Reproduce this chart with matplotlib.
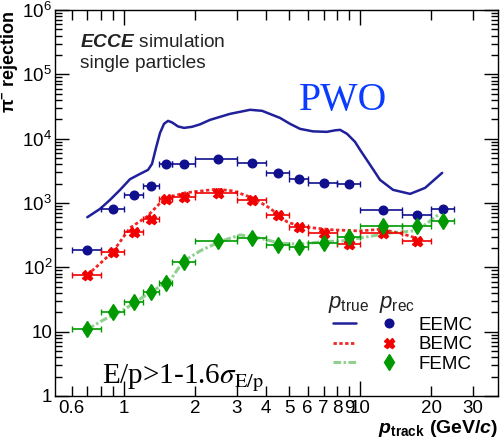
import matplotlib
matplotlib.use("Agg")
import matplotlib.pyplot as plt
from matplotlib.lines import Line2D
from matplotlib.ticker import FixedLocator, FixedFormatter, NullFormatter

plt.rcParams["font.family"] = ["Liberation Sans", "DejaVu Sans"]
plt.rcParams["mathtext.fontset"] = "custom"
plt.rcParams["mathtext.rm"] = "Liberation Sans"
plt.rcParams["mathtext.it"] = "Liberation Sans:italic"
plt.rcParams["mathtext.bf"] = "Liberation Sans:bold"
plt.rcParams["mathtext.bfit"] = "Liberation Sans:bold:italic"
plt.rcParams["mathtext.default"] = "regular"

# ---- reconstructed-momentum points (bin centres and half widths, GeV/c) ----
p_rec = [0.7, 0.9, 1.1, 1.3, 1.5, 1.8, 2.5, 3.5, 4.5, 5.5, 7, 9, 12.5, 17.5, 22.5]
p_halfwidth = [0.1, 0.1, 0.1, 0.1, 0.1, 0.2, 0.5, 0.5, 0.5, 0.5, 1, 1, 2.5, 2.5, 2.5]

eemc_rej = [186, 801, 1350, 1850, 4100, 4100, 4800, 4160, 2900, 2350, 2030, 1980, 790, 650, 800]
bemc_rej = [76, 172, 359, 560, 1150, 1260, 1450, 1120, 646, 429, 347, 229, 339, 260]
femc_rej = [10.9, 20.5, 28.7, 41.9, 57.8, 120, 257, 290, 223, 205, 242, 297, 445, 436, 527]

# ---- true-momentum curves ----
eemc_true_p = [0.699, 0.791, 0.872, 0.962, 1.06, 1.169, 1.264, 1.314, 1.366, 1.421, 1.477,
               1.536, 1.597, 1.693, 1.796, 1.942, 2.099, 2.314, 2.813, 3.42, 3.843, 4.581,
               5.05, 5.57, 6.32, 7.23, 7.83, 8.23, 8.81, 9.52, 10.0, 11.03, 12.15, 13.8,
               16.3, 18.86, 22.27]
eemc_true_rej = [601, 809, 1117, 1600, 2345, 2835, 3273, 4057, 7190, 12300, 17000,
                 18900, 17900, 15500, 14700, 15300, 16700, 19600, 24300, 28100, 27100, 21000,
                 17000, 14200, 12980, 12760, 13470, 13710, 11880, 8920, 6700, 3915, 2287, 1600,
                 1386, 1718, 2940]

bemc_true_p = [0.70, 0.895, 1.06, 1.25, 1.42, 1.50, 1.81, 2.47, 2.90, 3.53, 4.15, 4.89,
               5.57, 7.69, 10.0, 12.2, 14.8, 17.4]
bemc_true_rej = [76, 173, 410, 614, 993, 1188, 1436, 1640, 1542, 1188, 830, 514,
                 430, 382, 368, 391, 339, 284]

femc_true_p = [0.70, 0.817, 0.993, 1.21, 1.38, 1.57, 1.78, 2.10, 2.55, 3.10, 3.77, 4.58,
               5.57, 7.0, 8.5, 13.4, 17.4, 22.3]
femc_true_rej = [10.9, 15.2, 21.7, 35, 47.3, 63.7, 123, 180, 251, 319, 284, 237,
                 229, 251, 258, 343, 372, 727]

detectors = ["EEMC", "BEMC", "FEMC"]

x_major = [1, 10]
x_minor = [0.6, 0.7, 0.8, 0.9, 2, 3, 4, 5, 6, 7, 8, 9, 20, 30]
x_minor_labels = ["0.6", "", "", "", "2", "3", "4", "5", "6", "7", "8", "9", "20", "30"]
y_major = [1, 10, 1e2, 1e3, 1e4, 1e5, 1e6]
y_major_labels = ["1", "10", "$10^{2}$", "$10^{3}$", "$10^{4}$", "$10^{5}$", "$10^{6}$"]

blue = "#10108f"
red = "#f00000"
green = "#009a00"

fig = plt.figure(figsize=(5.01, 4.38), dpi=100)
ax = fig.add_axes([55 / 501, 42 / 438, 443 / 501, 386 / 438])
ax.set_xscale("log")
ax.set_yscale("log")
ax.set_xlim(0.51, 38.4)
ax.set_ylim(1, 1e6)

# curves (true momentum)
l_e, = ax.plot(eemc_true_p, eemc_true_rej, color="#20209a", lw=1.8, solid_capstyle="round",
               solid_joinstyle="round")
l_b, = ax.plot(bemc_true_p, bemc_true_rej, color=red, lw=2.0, alpha=0.85,
               linestyle=(0, (1.2, 0.9)))
l_f, = ax.plot(femc_true_p, femc_true_rej, color="#44b244", lw=2.2, alpha=0.6,
               linestyle=(0, (2.5, 0.8, 0.8, 0.8)))

# points (reconstructed momentum)
eb = dict(capsize=2.5, capthick=1.0, elinewidth=1.2, linestyle="none")
ax.errorbar(p_rec, eemc_rej, xerr=p_halfwidth, fmt="o", color=blue, ms=6.2, **eb)
ax.errorbar(p_rec[:len(bemc_rej)], bemc_rej, xerr=p_halfwidth[:len(bemc_rej)], fmt="X",
            color=red, ms=7.2, mec=red, **eb)
ax.errorbar(p_rec, femc_rej, xerr=p_halfwidth, fmt="d", color=green, ms=8.3, **eb)

# axes, ticks
for s in ax.spines.values():
    s.set_linewidth(1.0)
ax.xaxis.set_major_locator(FixedLocator(x_major))
ax.xaxis.set_major_formatter(FixedFormatter(["1", "10"]))
ax.xaxis.set_minor_locator(FixedLocator(x_minor))
ax.xaxis.set_minor_formatter(FixedFormatter(x_minor_labels))
ax.yaxis.set_major_locator(FixedLocator(y_major))
ax.yaxis.set_major_formatter(FixedFormatter(y_major_labels))
ax.yaxis.set_minor_locator(FixedLocator([m * 10 ** d for d in range(6) for m in range(2, 10)]))
ax.yaxis.set_minor_formatter(NullFormatter())

ax.tick_params(which="both", direction="in", top=True, right=True, labelsize=13.5, width=1.0)
ax.tick_params(axis="x", which="major", length=11, pad=3)
ax.tick_params(axis="x", which="minor", length=7, pad=3, labelsize=13.5)
ax.tick_params(axis="y", which="major", length=10, pad=2)
ax.tick_params(axis="y", which="minor", length=5)

ax.set_ylabel(r"$\mathbf{\pi^{-}}$ rejection", fontsize=13, fontweight="bold")
ax.yaxis.set_label_coords(-0.079, 1.0)
ax.yaxis.label.set_horizontalalignment("right")
ax.set_xlabel(r"$\mathbfit{p}_{\mathbf{track}}$ (GeV/$\mathbfit{c}$)", fontsize=14,
              fontweight="bold")
ax.xaxis.set_label_coords(1.0, -0.058)
ax.xaxis.label.set_horizontalalignment("right")
ax.xaxis.label.set_verticalalignment("top")

# annotations
ax.text(0.0564, 0.904, r"$\mathbfit{ECCE}$ simulation", transform=ax.transAxes,
        fontsize=13.8, va="baseline", ha="left", color="#222222")
ax.text(0.0564, 0.850, "single particles", transform=ax.transAxes,
        fontsize=13.8, va="baseline", ha="left", color="#222222")
ax.text(0.551, 0.741, "PWO", transform=ax.transAxes, fontsize=28.5,
        family="Liberation Serif", color="#0a3cff", va="baseline", ha="left")
ax.text(0.106, 0.034, r"E/p>1-1.6$\mathit{\sigma}_{\mathrm{E/p}}$", transform=ax.transAxes,
        fontsize=21, family="Liberation Serif", math_fontfamily="stix",
        va="baseline", ha="left")

# legend: curve styles in one column, markers with names in the other
mk_e = Line2D([], [], marker="o", color=blue, ms=6.2, linestyle="none")
mk_b = Line2D([], [], marker="X", color=red, ms=7.2, linestyle="none")
mk_f = Line2D([], [], marker="d", color=green, ms=8.3, linestyle="none")
ax.legend(handles=[l_e, l_b, l_f, mk_e, mk_b, mk_f],
          labels=["", "", ""] + detectors, ncol=2, frameon=False, fontsize=13.5,
          loc="upper left", bbox_to_anchor=(0.6275, 0.205), borderpad=0,
          borderaxespad=0, handlelength=1.25, handletextpad=0.95, columnspacing=0.15,
          labelspacing=0.12)
ax.text(0.616, 0.228, r"$\mathit{p}_{\mathrm{true}}$", transform=ax.transAxes,
        fontsize=16, va="baseline", ha="left", color="#222222")
ax.text(0.731, 0.228, r"$\mathit{p}_{\mathrm{rec}}$", transform=ax.transAxes,
        fontsize=16, va="baseline", ha="left", color="#222222")

fig.savefig("out.png", dpi=100)
